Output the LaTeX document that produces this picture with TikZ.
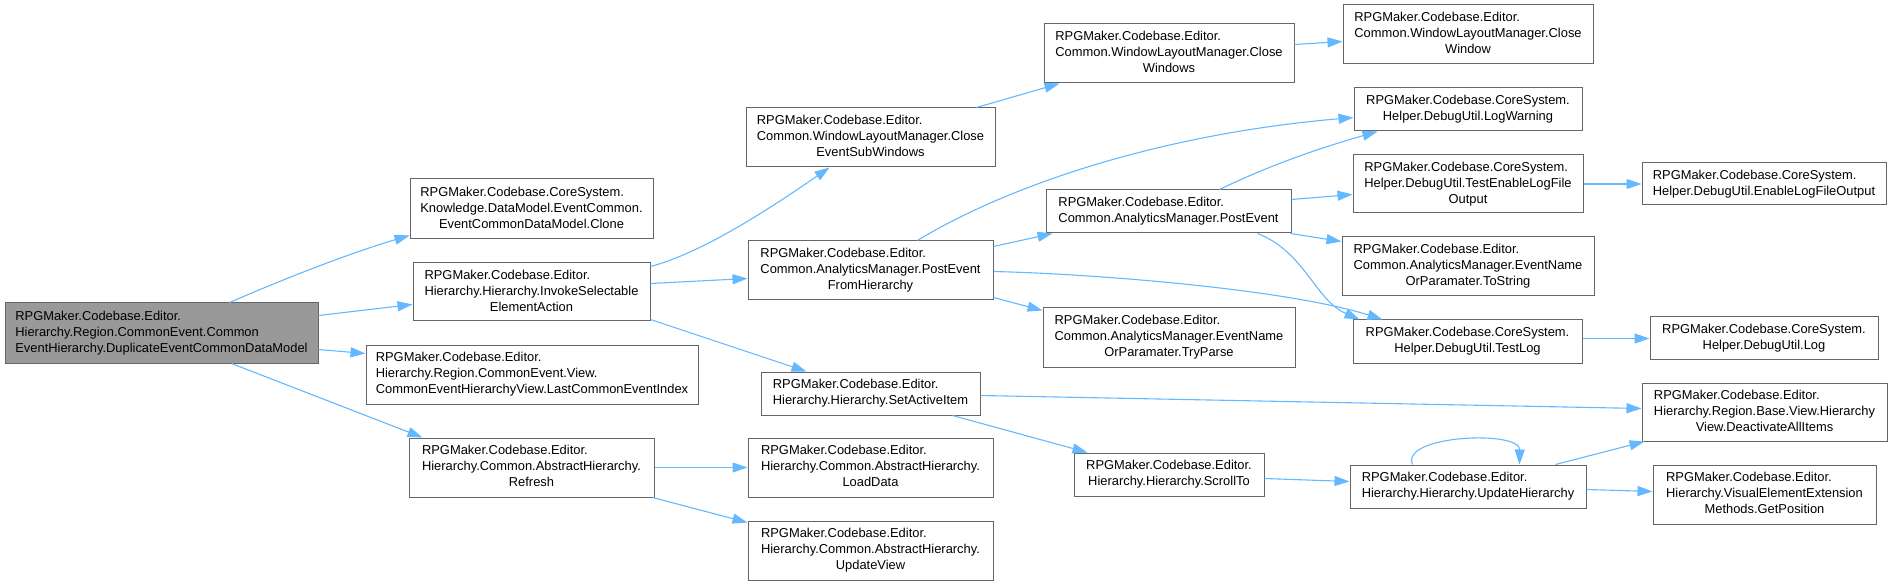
\documentclass[tikz,border=0pt]{standalone}
\usepackage{fontspec}
\setmainfont{Liberation Sans}
\usetikzlibrary{arrows.meta,calc}
\definecolor{edgeblue}{HTML}{63B8FF}
\definecolor{bordergray}{HTML}{666666}
\definecolor{mainfill}{HTML}{999999}
\newcommand\lc[1]{\multicolumn{1}{@{}c@{}}{#1}}
\newcommand\tb[1]{\begin{tabular}{@{}l@{}}#1\end{tabular}}
\tikzset{
  box/.style={draw=bordergray, line width=1pt, fill=white, inner sep=0pt,
    font=\fontsize{12.9}{16}\selectfont},
  mainbox/.style={fill=mainfill},
  conn/.style={draw=edgeblue, line width=1.1pt,
    -{Triangle[length=15pt,width=10pt]}},
}
\newcommand\bx[7][]{\node[box,#1,minimum width={#5-#3},minimum height={#6-#4}] (#2) at ({(#3+#5)/2},{(#4+#6)/2}) {\tb{#7}};}
\begin{document}
\begin{tikzpicture}[x=1pt,y=-1pt]
\useasboundingbox (0,0) rectangle (1893,585);
% nodes
\bx[mainbox]{main}{5}{303}{318}{363}{RPGMaker.Codebase.Editor.\\Hierarchy.Region.CommonEvent.Common\\\lc{EventHierarchy.DuplicateEventCommonDataModel}}
\bx{clone}{410}{179}{653}{239}{RPGMaker.Codebase.CoreSystem.\\Knowledge.DataModel.EventCommon.\\\lc{EventCommonDataModel.Clone}}
\bx{invoke}{413}{263}{650}{321}{RPGMaker.Codebase.Editor.\\Hierarchy.Hierarchy.InvokeSelectable\\\lc{ElementAction}}
\bx{lastcei}{366}{345}{698}{404}{RPGMaker.Codebase.Editor.\\Hierarchy.Region.CommonEvent.View.\\\lc{CommonEventHierarchyView.LastCommonEventIndex}}
\bx{refresh}{409}{438}{654}{497}{RPGMaker.Codebase.Editor.\\Hierarchy.Common.AbstractHierarchy.\\\lc{Refresh}}
\bx{closeesw}{746}{108}{995}{167}{RPGMaker.Codebase.Editor.\\Common.WindowLayoutManager.Close\\\lc{EventSubWindows}}
\bx{pefh}{748}{241}{993}{300}{RPGMaker.Codebase.Editor.\\Common.AnalyticsManager.PostEvent\\\lc{FromHierarchy}}
\bx{setactive}{761}{372}{980}{415}{RPGMaker.Codebase.Editor.\\\lc{Hierarchy.Hierarchy.SetActiveItem}}
\bx{loaddata}{748}{438}{993}{497}{RPGMaker.Codebase.Editor.\\Hierarchy.Common.AbstractHierarchy.\\\lc{LoadData}}
\bx{updateview}{748}{521}{993}{580}{RPGMaker.Codebase.Editor.\\Hierarchy.Common.AbstractHierarchy.\\\lc{UpdateView}}
\bx{closewindows}{1044}{24}{1294}{83}{RPGMaker.Codebase.Editor.\\Common.WindowLayoutManager.Close\\\lc{Windows}}
\bx{postevent}{1046}{190}{1291}{233}{RPGMaker.Codebase.Editor.\\\lc{Common.AnalyticsManager.PostEvent}}
\bx{tryparse}{1043}{308}{1295}{367}{RPGMaker.Codebase.Editor.\\Common.AnalyticsManager.EventName\\\lc{OrParamater.TryParse}}
\bx{scrollto}{1074}{453}{1264}{496}{RPGMaker.Codebase.Editor.\\\lc{Hierarchy.Hierarchy.ScrollTo}}
\bx{closewindow}{1343}{5}{1593}{64}{RPGMaker.Codebase.Editor.\\Common.WindowLayoutManager.Close\\\lc{Window}}
\bx{logwarning}{1354}{88}{1582}{131}{RPGMaker.Codebase.CoreSystem.\\\lc{Helper.DebugUtil.LogWarning}}
\bx{testenable}{1353}{155}{1583}{213}{RPGMaker.Codebase.CoreSystem.\\Helper.DebugUtil.TestEnableLogFile\\\lc{Output}}
\bx{tostring}{1342}{237}{1594}{296}{RPGMaker.Codebase.Editor.\\Common.AnalyticsManager.EventName\\\lc{OrParamater.ToString}}
\bx{testlog}{1353}{320}{1582}{363}{RPGMaker.Codebase.CoreSystem.\\\lc{Helper.DebugUtil.TestLog}}
\bx{updatehier}{1350}{465}{1586}{508}{RPGMaker.Codebase.Editor.\\\lc{Hierarchy.Hierarchy.UpdateHierarchy}}
\bx{enablelog}{1642}{163}{1886}{205}{RPGMaker.Codebase.CoreSystem.\\\lc{Helper.DebugUtil.EnableLogFileOutput}}
\bx{nlog}{1650}{317}{1878}{359}{RPGMaker.Codebase.CoreSystem.\\\lc{Helper.DebugUtil.Log}}
\bx{deactivate}{1642}{383}{1887}{441}{RPGMaker.Codebase.Editor.\\Hierarchy.Region.Base.View.Hierarchy\\\lc{View.DeactivateAllItems}}
\bx{getposition}{1653}{465}{1876}{524}{RPGMaker.Codebase.Editor.\\Hierarchy.VisualElementExtension\\\lc{Methods.GetPosition}}
% edges
\draw[conn] ([xshift=225pt]main.north west) .. controls (300,272) and (360,250) .. ([yshift=-57pt]clone.north west);
\draw[conn] ([yshift=-13pt]main.north east) -- ([yshift=-42pt]invoke.north west);
\draw[conn] ([yshift=-47pt]main.north east) -- ([yshift=-9pt]lastcei.north west);
\draw[conn] ([xshift=227pt]main.south west) -- ([xshift=14pt]refresh.north west);
\draw[conn] ([yshift=-4pt]invoke.north east) .. controls (705,252) and (775,205) .. ([xshift=84pt]closeesw.south west);
\draw[conn] ([yshift=-21pt]invoke.north east) -- ([yshift=-38pt]pefh.north west);
\draw[conn] ([yshift=-57pt]invoke.north east) -- ([xshift=46pt]setactive.north west);
\draw[conn] (refresh.east) -- (loaddata.west);
\draw[conn] ([xshift=-2pt]refresh.south east) -- ([yshift=-2pt]updateview.north west);
\draw[conn] ([xshift=231pt]closeesw.north west) -- ([xshift=16pt]closewindows.south west);
\draw[conn] ([yshift=-21pt]closewindows.north east) -- ([yshift=-37pt]closewindow.north west);
\draw[conn] ([xshift=170pt]pefh.north west) .. controls (1000,190) and (1150,135) .. ([yshift=-30pt]logwarning.north west);
\draw[conn] ([yshift=-6pt]pefh.north east) -- ([xshift=7pt]postevent.south west);
\draw[conn] ([yshift=-31pt]pefh.north east) .. controls (1100,274) and (1290,290) .. ([xshift=30pt]testlog.north west);
\draw[conn] ([yshift=-57pt]pefh.north east) -- ([yshift=-3pt]tryparse.north west);
\draw[conn] ([xshift=174pt]postevent.north west) .. controls (1270,165) and (1320,148) .. ([xshift=24pt]logwarning.south west);
\draw[conn] ([yshift=-10pt]postevent.north east) -- ([yshift=-40pt]testenable.north west);
\draw[conn] ([xshift=-1pt]postevent.south east) -- ([yshift=-5pt]tostring.north west);
\draw[conn] ([xshift=212pt]postevent.south west) .. controls (1305,252) and (1315,300) .. ([xshift=7pt]testlog.north west);
\draw[conn] ([yshift=-24pt]setactive.north east) -- ([yshift=-26pt]deactivate.north west);
\draw[conn] ([xshift=192pt]setactive.south west) -- ([xshift=14pt]scrollto.north west);
\draw[conn] ([yshift=-26pt]scrollto.north east) -- ([yshift=-17pt]updatehier.north west);
\draw[conn] (testenable.east) -- (enablelog.west);
\draw[conn] ([yshift=-19pt]testlog.north east) -- ([yshift=-22pt]nlog.north west);
\draw[conn] ([xshift=63pt]updatehier.north west) .. controls (1400,435) and (1520,430) .. ([xshift=170pt]updatehier.north west);
\draw[conn] ([xshift=206pt]updatehier.north west) -- ([xshift=3pt]deactivate.south west);
\draw[conn] ([yshift=-25pt]updatehier.north east) -- ([yshift=-27pt]getposition.north west);
\end{tikzpicture}
\end{document}
